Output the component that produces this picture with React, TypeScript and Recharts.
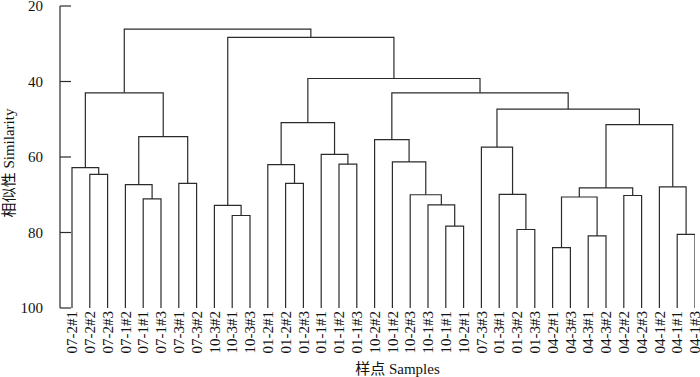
import { LineChart, Line, XAxis, YAxis } from 'recharts';

// leaf order along the x axis
const leafNames = [
  '07-2#1', '07-2#2', '07-2#3', '07-1#2', '07-1#1', '07-1#3', '07-3#1', '07-3#2',
  '10-3#2', '10-3#1', '10-3#3', '01-2#1', '01-2#2', '01-2#3', '01-1#1', '01-1#2',
  '01-1#3', '10-2#2', '10-1#2', '10-2#3', '10-1#3', '10-1#1', '10-2#1', '07-3#3',
  '01-3#1', '01-3#2', '01-3#3', '04-2#1', '04-3#3', '04-3#1', '04-3#2', '04-2#2',
  '04-2#3', '04-1#2', '04-1#1', '04-1#3',
];

// merges: children ids (0-35 leaves, 36+ earlier merges in this order)
const mergePairs: [number, number][] = [
  [1, 2], [0, 36], [4, 5], [3, 38], [6, 7], [39, 40], [37, 41],
  [9, 10], [8, 43], [12, 13], [11, 45], [15, 16], [14, 47], [46, 48],
  [21, 22], [20, 50], [19, 51], [18, 52], [17, 53],
  [25, 26], [24, 55], [23, 56], [27, 28], [29, 30], [58, 59], [31, 32], [60, 61],
  [34, 35], [33, 63], [62, 64], [57, 65], [54, 66], [49, 67], [44, 68], [42, 69],
];

// similarity at which each merge happens
const mergeSimilarity = [
  64.6, 62.8, 71.1, 67.3, 67.0, 54.6, 43.0,
  75.5, 72.8, 67.0, 62.0, 61.9, 59.3, 50.9,
  78.3, 72.7, 70.0, 61.3, 55.4,
  79.2, 69.9, 57.4, 84.0, 80.9, 70.6, 70.2, 68.2,
  80.5, 67.9, 51.4, 47.3, 43.0, 39.2, 28.3, 26.1,
];

const yTicks = [20, 40, 60, 80, 100];
const leafTicks = leafNames.map((_, i) => i);

const FONT = '"Liberation Serif", "Times New Roman", "Noto Sans CJK SC", serif';
const INK = '#2b2b2b';

function buildLinks() {
  const xs: number[] = leafNames.map((_, i) => i);
  const hs: number[] = leafNames.map(() => 100);
  const links: { x: number; y: number }[][] = [];
  mergePairs.forEach(([a, b], i) => {
    const h = mergeSimilarity[i];
    links.push([
      { x: xs[a], y: hs[a] },
      { x: xs[a], y: h },
      { x: xs[b], y: h },
      { x: xs[b], y: hs[b] },
    ]);
    xs.push((xs[a] + xs[b]) / 2);
    hs.push(h);
  });
  return links;
}

const links = buildLinks();

function LeafTick(props: any) {
  const { x, y, payload } = props;
  return (
    <text
      x={x}
      y={y + 3}
      dy="0.35em"
      transform={`rotate(-90, ${x}, ${y + 3})`}
      textAnchor="end"
      fontSize={15}
      fontFamily={FONT}
      fill="#111"
    >
      {leafNames[payload.value]}
    </text>
  );
}

function SimTick(props: any) {
  const { x, y, payload } = props;
  return (
    <g>
      <line x1={x} y1={y} x2={x + 11} y2={y} stroke={INK} strokeWidth={1.2} />
      <text x={x - 17} y={y} dy="0.35em" textAnchor="end" fontSize={15} fontFamily={FONT} fill="#111">
        {payload.value}
      </text>
    </g>
  );
}

function XTitle(props: any) {
  const { viewBox } = props;
  return (
    <text x={viewBox.x + viewBox.width / 2 + 20} y={374} textAnchor="middle" fontSize={15} fontFamily={FONT} fill="#111">
      样点 Samples
    </text>
  );
}

function YTitle(props: any) {
  const { viewBox } = props;
  const cx = 9;
  const cy = viewBox.y + viewBox.height / 2 + 6;
  return (
    <text
      x={cx}
      y={cy}
      dy="0.35em"
      transform={`rotate(-90, ${cx}, ${cy})`}
      textAnchor="middle"
      fontSize={15}
      fontFamily={FONT}
      fill="#111"
    >
      相似性 Similarity
    </text>
  );
}

export default function App() {
  return (
    <div style={{ position: 'absolute', left: 0, top: 0, width: 700, height: 377, background: '#fff' }}>
      <LineChart width={700} height={377} margin={{ top: 6, right: 5, bottom: 0, left: 0 }}>
        <XAxis
          type="number"
          dataKey="x"
          domain={[-0.674, 35]}
          ticks={leafTicks}
          interval={0}
          allowDataOverflow
          axisLine={false}
          tickLine={false}
          tickSize={0}
          tickMargin={0}
          height={69}
          tick={<LeafTick />}
          label={<XTitle />}
        />
        <YAxis
          type="number"
          domain={[20, 100]}
          reversed
          ticks={yTicks}
          interval={0}
          width={60}
          allowDataOverflow
          axisLine={{ stroke: INK, strokeWidth: 1.2 }}
          tickLine={false}
          tickSize={0}
          tickMargin={0}
          tick={<SimTick />}
          label={<YTitle />}
        />
        {links.map((pts, i) => (
          <Line
            key={i}
            data={pts}
            dataKey="y"
            type="linear"
            stroke={INK}
            strokeWidth={1.2}
            dot={false}
            activeDot={false}
            isAnimationActive={false}
          />
        ))}
      </LineChart>
    </div>
  );
}
